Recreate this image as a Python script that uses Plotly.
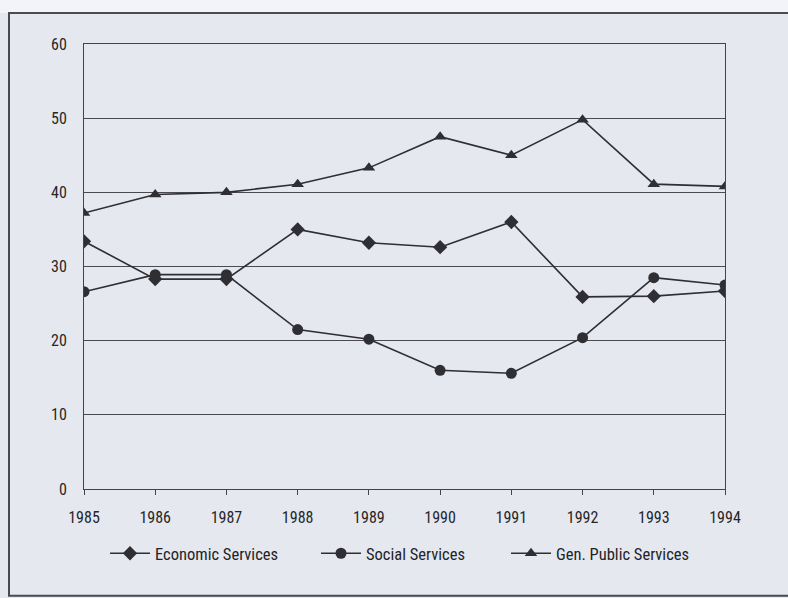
import plotly.graph_objects as go

years = [1985, 1986, 1987, 1988, 1989, 1990, 1991, 1992, 1993, 1994]
economic = [33.4, 28.3, 28.3, 35.0, 33.2, 32.6, 36.0, 25.9, 26.0, 26.7]
social = [26.6, 28.9, 28.9, 21.5, 20.2, 16.0, 15.6, 20.4, 28.5, 27.5]
gen_public = [37.2, 39.7, 40.0, 41.1, 43.3, 47.5, 45.0, 49.8, 41.1, 40.8]
y_ticks = [0, 10, 20, 30, 40, 50, 60]

ink = "#2e2e33"
bg = "#e5e8ef"
font_family = "Liberation Sans Narrow, Roboto Condensed, Arial Narrow, Liberation Sans, sans-serif"

# plot area in pixels, used to place the legend entries in paper units
PLOT_L, PLOT_W = 84, 641

fig = go.Figure()

series = [
    ("Economic Services", economic, "diamond", 11, "legend", 105),
    ("Social Services", social, "circle", 11, "legend2", 316),
    ("Gen. Public Services", gen_public, "triangle-up", 11, "legend3", 506),
]
legend_layout = {}
for name, vals, sym, size, leg, px in series:
    fig.add_trace(go.Scatter(
        x=years, y=vals, name=name, mode="lines+markers",
        line=dict(color=ink, width=1.6),
        marker=dict(symbol=sym, size=size, color=ink),
        legend=leg,
    ))
    legend_layout[leg] = dict(
        orientation="h", x=(px - PLOT_L) / PLOT_W, xanchor="left",
        y=-0.145, yanchor="middle", itemwidth=40,
        bgcolor="rgba(0,0,0,0)", font=dict(size=16.5, color="#232326"),
    )

fig.update_layout(
    width=788, height=598,
    margin=dict(l=84, r=63, t=44, b=109),
    paper_bgcolor=bg, plot_bgcolor=bg,
    font=dict(family=font_family, size=16, color="#262629"),
    showlegend=True,
    **legend_layout,
    xaxis=dict(
        range=[1985, 1994], tickmode="array", tickvals=years,
        ticktext=[str(y) for y in years],
        showgrid=False, zeroline=False,
        showline=True, linecolor="#444", linewidth=1, mirror=True,
        ticks="outside", ticklen=5, tickcolor="#444",
        ticklabelstandoff=9,
        fixedrange=True,
    ),
    yaxis=dict(
        range=[0, 60], tickmode="array", tickvals=y_ticks,
        showgrid=True, gridcolor="#4a4a50", gridwidth=1,
        zeroline=False, showline=True, linecolor="#444", linewidth=1, mirror=True,
        ticks="", ticklabelstandoff=13,
        fixedrange=True,
    ),
)

# light strip above the framed panel and the panel's outer border
fig.add_shape(type="rect", xref="paper", yref="paper",
              x0=-0.2, x1=1.2, y0=1.0697, y1=1.2,
              fillcolor="#f3f4f7", line=dict(width=0), layer="below")
fig.add_shape(type="path", xref="paper", yref="paper",
              path="M 1.2,1.0697 L -0.117,1.0697 L -0.117,-0.240 L 1.2,-0.240",
              line=dict(color="#4a4a4f", width=2))

fig.write_html("out.html")
